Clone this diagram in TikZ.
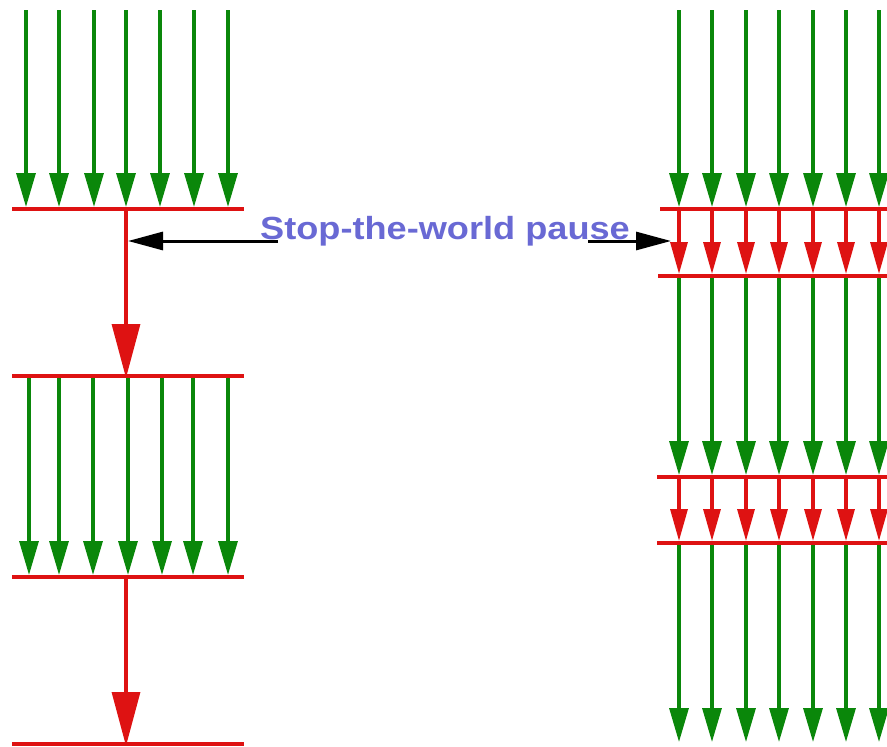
\documentclass[tikz,border=0pt]{standalone}
\usepackage{fontspec}
\setmainfont{Liberation Sans}
\usetikzlibrary{arrows.meta}
\definecolor{gcol}{RGB}{10,135,10}
\definecolor{rcol}{RGB}{222,18,18}
\definecolor{tcol}{RGB}{105,105,212}
\tikzset{
  garrow/.style={draw=gcol,line width=3.3pt,-{Triangle[length=34pt,width=19pt]}},
  rbig/.style={draw=rcol,line width=3.3pt,-{Triangle[length=54pt,width=28pt]}},
  rsmall/.style={draw=rcol,line width=3.3pt,-{Triangle[length=32pt,width=17pt]}},
  rbar/.style={draw=rcol,line width=4pt},
  barrow/.style={draw=black,line width=3pt,-{Triangle[length=35pt,width=18pt]}},
  lbl/.style={text=tcol,font=\fontsize{32}{32}\selectfont\bfseries,inner sep=0pt}
}
\begin{document}
\begin{tikzpicture}[x=1pt,y=-1pt]
\useasboundingbox (0,0) rectangle (887,747);
% left bars
\foreach \n/\y in {1/209,2/376,3/577,4/744}{
  \coordinate (lb\n w) at (12,\y);
  \coordinate (lb\n e) at (244,\y);
  \coordinate (lb\n c) at (126,\y);
  \draw[rbar] (lb\n w) -- (lb\n e);
}
% left green arrows, top
\foreach \x [count=\i] in {26,59,94,126,160,194,228}{
  \coordinate (lt\i) at (\x,10);
  \coordinate (lte\i) at (\x,207);
  \draw[garrow] (lt\i) -- (lte\i);
}
% left green arrows, middle
\foreach \x [count=\i] in {29,59,93,128,162,193,228}{
  \coordinate (lm\i) at (\x,378);
  \coordinate (lme\i) at (\x,575);
  \draw[garrow] (lm\i) -- (lme\i);
}
% left red arrows
\draw[rbig] (lb1c) -- ([yshift=-2pt]lb2c);
\draw[rbig] (lb3c) -- ([yshift=-2pt]lb4c);
% right bars
\foreach \n/\y/\xs in {1/209/660,2/276/658,3/477/657,4/543/657}{
  \coordinate (rb\n w) at (\xs,\y);
  \coordinate (rb\n e) at (890,\y);
  \draw[rbar] (rb\n w) -- (rb\n e);
}
% right arrows
\foreach \x [count=\i] in {679,712,746,779,813,846,879}{
  \coordinate (ra\i) at (\x,10);
  \coordinate (rb\i) at (\x,207);
  \coordinate (rc\i) at (\x,211);
  \coordinate (rd\i) at (\x,274);
  \coordinate (re\i) at (\x,278);
  \coordinate (rf\i) at (\x,475);
  \coordinate (rg\i) at (\x,479);
  \coordinate (rh\i) at (\x,541);
  \coordinate (ri\i) at (\x,545);
  \coordinate (rj\i) at (\x,742);
  \draw[garrow] (ra\i) -- (rb\i);
  \draw[rsmall] (rc\i) -- (rd\i);
  \draw[garrow] (re\i) -- (rf\i);
  \draw[rsmall] (rg\i) -- (rh\i);
  \draw[garrow] (ri\i) -- (rj\i);
}
% label and pointers
\node[lbl] (lab) at (445,231) {\scalebox{1.13}[1]{Stop-the-world pause}};
\coordinate (lp0) at (278,241);
\coordinate (lp1) at (128,241);
\coordinate (rp0) at (588,241);
\coordinate (rp1) at (671,241);
\draw[barrow] (lp0) -- (lp1);
\draw[barrow] (rp0) -- (rp1);
\end{tikzpicture}
\end{document}
